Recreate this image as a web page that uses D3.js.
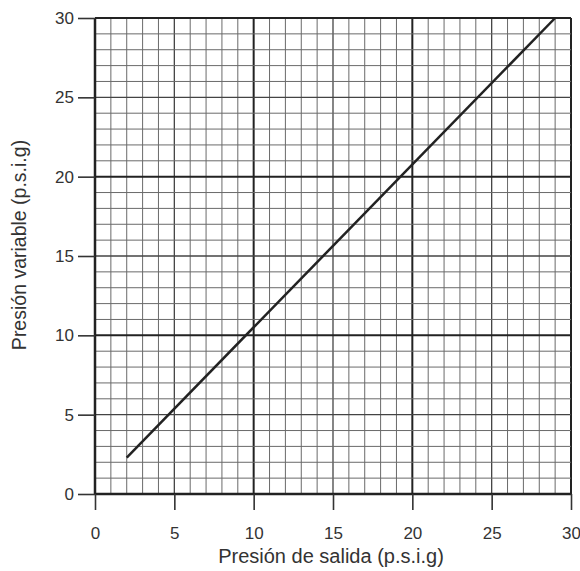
<!DOCTYPE html>
<html><head><meta charset="utf-8">
<script src="https://cdn.jsdelivr.net/npm/d3@7"></script>
<style>body{margin:0;background:#fff}svg{display:block}text{font-family:"Liberation Sans",Arial,sans-serif;fill:#333}</style>
</head><body>
<script>
const xDomain = [0, 30];
const yDomain = [0, 30];
const xTicks = [0, 5, 10, 15, 20, 25, 30];
const yTicks = [0, 5, 10, 15, 20, 25, 30];
const lineX = [2, 29];
const lineY = [2.3, 30];
const xTitle = "Presión de salida (p.s.i.g)";
const yTitle = "Presión variable (p.s.i.g)";

const W = 580, H = 571;
const m = {left: 95, right: 9, top: 18, bottom: 77};
const svg = d3.select("body").append("svg").attr("width", W).attr("height", H);
const x = d3.scaleLinear().domain(xDomain).range([m.left, W - m.right]);
const y = d3.scaleLinear().domain(yDomain).range([H - m.bottom, m.top]);

const g = svg.append("g");
const minor = d3.range(xDomain[0], xDomain[1] + 1, 1);
function sw(v){ return v % 10 === 0 ? 2 : (v % 5 === 0 ? 1.3 : 1); }
function col(v){ return v % 10 === 0 ? "#222" : (v % 5 === 0 ? "#444" : "#6a6a6a"); }
g.selectAll(".vx").data(minor).join("line")
  .attr("x1", d => x(d)).attr("x2", d => x(d))
  .attr("y1", y(yDomain[0])).attr("y2", y(yDomain[1]))
  .attr("stroke", col).attr("stroke-width", sw);
const minorY = d3.range(yDomain[0], yDomain[1] + 1, 1);
g.selectAll(".hy").data(minorY).join("line")
  .attr("y1", d => y(d)).attr("y2", d => y(d))
  .attr("x1", x(xDomain[0])).attr("x2", x(xDomain[1]))
  .attr("stroke", col).attr("stroke-width", sw);

// axes
const xAxis = svg.append("g").attr("transform", `translate(0,${y(0)})`)
  .call(d3.axisBottom(x).tickValues(xTicks).tickSize(16).tickPadding(17));
const yAxis = svg.append("g").attr("transform", `translate(${x(0)},0)`)
  .call(d3.axisLeft(y).tickValues(yTicks).tickSize(17).tickPadding(4));
[xAxis, yAxis].forEach(a => {
  a.select(".domain").attr("stroke", "#222").attr("stroke-width", 2.5);
  a.selectAll(".tick line").attr("stroke", "#333").attr("stroke-width", 1.6);
  a.selectAll(".tick text").attr("font-size", 17).attr("fill", "#333")
    .attr("font-family", "Liberation Sans, Arial, sans-serif");
});
yAxis.select(".domain").attr("d", `M0,${y(30)}V${y(0)}`);
xAxis.select(".domain").attr("d", `M${x(0)},0H${x(30)}`);

// data line
const pts = lineX.map((v, i) => [v, lineY[i]]);
svg.append("path").datum(pts)
  .attr("d", d3.line().x(d => x(d[0])).y(d => y(d[1])))
  .attr("fill", "none").attr("stroke", "#222").attr("stroke-width", 2.5);

svg.append("text").attr("x", 331).attr("y", 563)
  .attr("text-anchor", "middle").attr("font-size", 20).text(xTitle);
svg.append("text").attr("transform", `translate(26,245) rotate(-90)`)
  .attr("text-anchor", "middle").attr("font-size", 19.5).text(yTitle);
</script>
</body></html>
